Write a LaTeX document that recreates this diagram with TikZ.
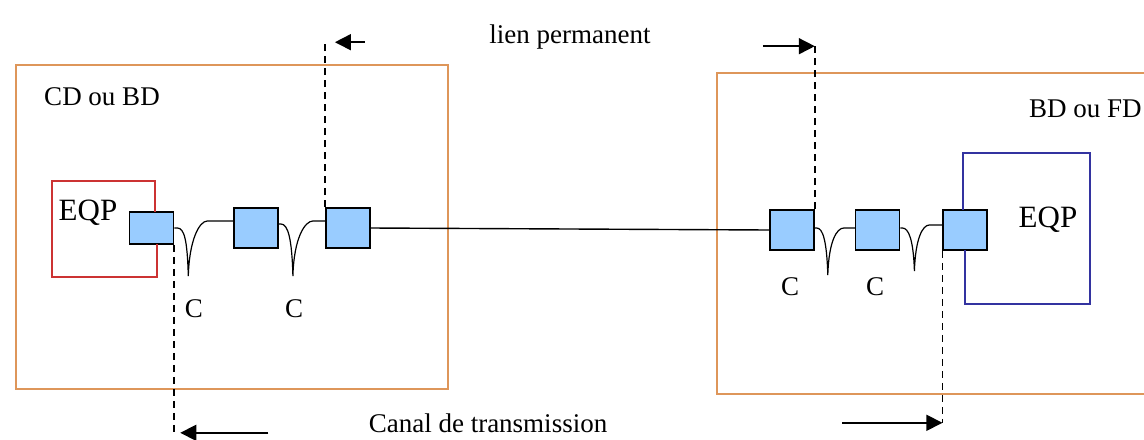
\documentclass[tikz,border=0pt]{standalone}
\usepackage{fontspec}
\setmainfont{Liberation Serif}
\usetikzlibrary{arrows.meta,positioning}
\definecolor{zoneorange}{RGB}{222,150,90}
\definecolor{eqpred}{RGB}{204,51,51}
\definecolor{eqpblue}{RGB}{51,51,160}
\definecolor{plugblue}{RGB}{153,204,255}

\begin{document}
\begin{tikzpicture}[x=0.5pt,y=-0.5pt,>={Triangle[length=8pt,width=8pt]},
                    font=\fontsize{13.5}{15}\selectfont,
                    plug/.style={draw,line width=0.8pt,fill=plugblue,minimum width=22pt,
                                 minimum height=20pt,inner sep=0pt},
                    cable/.style={draw,line width=0.6pt},
                    cut/.style={draw,line width=0.9pt,dash pattern=on 3.5pt off 2.5pt},
                    zone/.style={draw=zoneorange,line width=1pt}]
    \useasboundingbox (0,0) rectangle (1144,439);

    % zones
    \draw[zone] (16,65) rectangle (448,389);
    \draw[zone] (1170,394) -| (717,73) -- (1170,73);
    \node (cdbd) at (102,97) {CD ou BD};
    \node[anchor=west] (bdfd) at (1022,109) {BD ou FD};

    % plugs
    \node[plug,minimum height=16pt] (p1) at (151.5,228) {};
    \node[plug,right=29.5pt of p1] (p2) {};
    \node[plug,right=23pt of p2] (p3) {};
    \node[plug] (p4) at (792,230) {};
    \node[plug,right=20pt of p4] (p5) {};
    \node[plug,right=21pt of p5] (p6) {};
    \draw[line width=0.7pt] (p3.east) -- (p4.west);

    % equipment
    \draw[eqpred,line width=0.8pt] (155,212) |- (52,181) |- (157,277) -- (157,244);
    \node[font=\fontsize{15.5}{17}\selectfont] (eqpL) at (88,213) {EQP};
    \draw[eqpblue,line width=0.8pt] (963,210) |- (1090,153) |- (965,304) -- (965,250);
    \node[font=\fontsize{15.5}{17}\selectfont] (eqpR) at (1048,220) {EQP};

    % cords
    \draw[cable] (p1.east) -- ++(3,0) .. controls +(7,0) and +(-1,-36) .. ++(11,48)
        .. controls +(1,-36) and +(-8,0) .. ++(19,-55) -- ([yshift=3.5pt]p2.west);
    \draw[cable] ([yshift=2pt]p2.east) -- ++(2,0) .. controls +(7,0) and +(-1,-38) .. ++(12,52)
        .. controls +(1,-38) and +(-8,0) .. ++(20,-55) -- ([yshift=3.5pt]p3.west);
    \draw[cable] ([yshift=1pt]p4.east) -- ++(2,0) .. controls +(6,0) and +(-1,-34) .. ++(11,47)
        .. controls +(1,-34) and +(-7,0) .. ++(16,-47) -- ([yshift=1pt]p5.west);
    \draw[cable] ([yshift=1pt]p5.east) -- ++(2,0) .. controls +(6,0) and +(-1,-32) .. ++(12,43)
        .. controls +(1,-32) and +(-7,0) .. ++(15,-46) -- ([yshift=2.5pt]p6.west);
    \node (c1) at (194,309) {C};
    \node (c2) at (294,309) {C};
    \node (c3) at (790,287) {C};
    \node (c4) at (875,287) {C};

    % lien permanent
    \node (lien) at (570,37) {lien permanent};
    \draw[cut] (p3.north west) -- ++(0,-165) coordinate (lpA);
    \draw[->,line width=0.8pt] ([xshift=20pt]lpA) -- ([xshift=5pt]lpA);
    \draw[cut] (p4.north east) -- ++(0,-163) coordinate (lpB);
    \draw[->,line width=0.8pt] ([xshift=-26pt]lpB) -- (lpB);

    % canal de transmission
    \node (canal) at (488,423) {Canal de transmission};
    \draw[cut] (p1.south east) -- ++(0,188) coordinate (ctA);
    \draw[->,line width=0.8pt] ([xshift=47pt]ctA) -- ([xshift=3pt]ctA);
    \draw[cut] (p6.south west) -- ++(0,172) coordinate (ctB);
    \draw[->,line width=0.8pt] ([xshift=-50pt]ctB) -- (ctB);
\end{tikzpicture}
\end{document}
